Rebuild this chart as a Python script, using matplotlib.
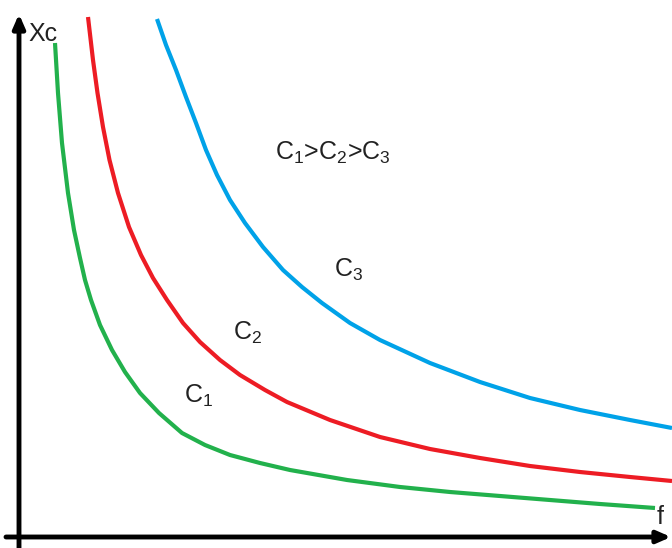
import matplotlib.pyplot as plt

plt.rcParams['font.family'] = ['Liberation Sans', 'DejaVu Sans']
plt.rcParams['mathtext.fontset'] = 'custom'
plt.rcParams['mathtext.rm'] = 'Liberation Sans'

# curves (f, Xc) in picture units, y grows downward
c1_f = [55, 58, 62, 68, 74, 80, 85, 91, 100, 112, 125, 140, 159, 182, 205, 230, 260, 290, 347, 400, 450, 500, 550, 600, 655]
c1_x = [43, 93, 143, 193, 230, 258, 280, 300, 325, 350, 372, 393, 413, 433, 445, 455, 463, 470, 480, 487, 492, 496, 500, 504, 508]

c2_f = [88, 93, 97.5, 103, 109.5, 118, 129, 141, 153, 167, 183, 200, 220, 240, 265, 287, 330, 380, 430, 480, 530, 580, 630, 672]
c2_x = [17, 60, 93, 127, 160, 193, 227, 255, 278, 300, 323, 342, 360, 375, 390, 402, 420, 437, 449, 458, 466, 472, 477, 481]

c3_f = [157, 166, 176, 186, 196, 206, 217, 230, 245, 263, 283, 302, 322, 350, 380, 430, 480, 530, 580, 630, 672]
c3_x = [19, 45, 70, 97, 123, 150, 175, 200, 223, 247, 270, 287, 303, 323, 340, 363, 382, 398, 410, 420, 428]

fig = plt.figure(figsize=(6.72, 5.48), dpi=100)
ax = fig.add_axes([0, 0, 1, 1])
ax.set_xlim(0, 672)
ax.set_ylim(548, 0)
ax.axis('off')

# axes with arrows
head = '-|>,head_length=0.8,head_width=0.35'
ax.annotate('', xy=(19, 14), xytext=(19, 548), annotation_clip=False,
            arrowprops=dict(arrowstyle=head, color='black', lw=3.5, shrinkA=0, shrinkB=0))
ax.annotate('', xy=(671, 537), xytext=(6, 537), annotation_clip=False,
            arrowprops=dict(arrowstyle=head, color='black', lw=3.5, shrinkA=0, shrinkB=0))

style = dict(lw=3, solid_capstyle='butt', solid_joinstyle='round')
ax.plot(c1_f, c1_x, color='#22b14c', **style)
ax.plot(c2_f, c2_x, color='#ed1c24', **style)
ax.plot(c3_f, c3_x, color='#00a2e8', **style)

txt = dict(color='#222222', fontsize=18)
ax.text(28, 34, 'Xc', ha='left', va='center', color='#222222', fontsize=18)
ax.text(657, 517, 'f', ha='left', va='center', color='#222222', fontsize=18)
ax.text(275, 153, r'C$_\mathregular{1}$>C$_\mathregular{2}$>C$_\mathregular{3}$', ha='left', va='center', **txt)
ax.text(334, 270, r'C$_\mathregular{3}$', ha='left', va='center', **txt)
ax.text(233, 333, r'C$_\mathregular{2}$', ha='left', va='center', **txt)
ax.text(184, 396, r'C$_\mathregular{1}$', ha='left', va='center', **txt)

fig.savefig('out.png', dpi=100, facecolor='white')
